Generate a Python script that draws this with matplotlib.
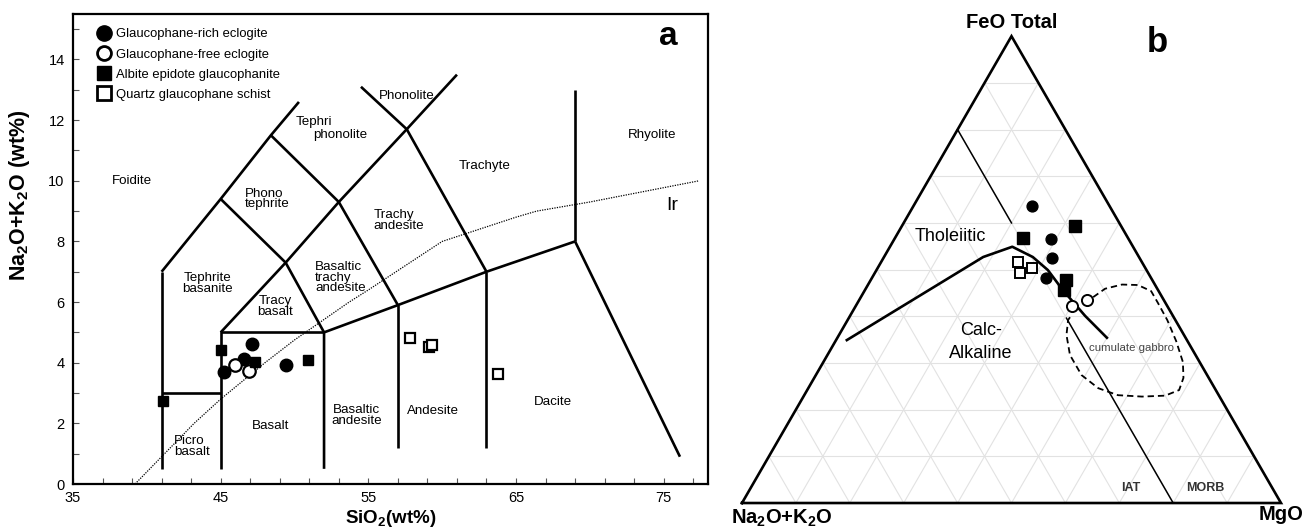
import numpy as np
import matplotlib
matplotlib.use("Agg")
import matplotlib.pyplot as plt
from matplotlib.lines import Line2D

plt.rcParams.update({
    "font.family": ["Liberation Sans", "DejaVu Sans"],
    "mathtext.fontset": "custom",
    "mathtext.rm": "Liberation Sans:bold",
    "mathtext.bf": "Liberation Sans:bold",
    "mathtext.default": "bf",
})
LABEL_FS = 9.6

# ---- TAS samples: SiO2 (wt%) / Na2O+K2O (wt%)
gl_rich_si = [45.2, 46.6, 47.1, 49.4]
gl_rich_alk = [3.70, 4.12, 4.62, 3.93]
gl_free_si = [46.0, 46.9]
gl_free_alk = [3.93, 3.72]
albite_si = [41.1, 45.0, 47.3, 50.9]
albite_alk = [2.75, 4.42, 4.02, 4.10]
qtz_si = [57.8, 59.1, 59.3, 63.8]
qtz_alk = [4.82, 4.52, 4.58, 3.63]

# TAS field boundaries (Le Bas et al. 1986)
tas_lines = [
    [(41, 0.5), (41, 7)],
    [(41, 3), (45, 3)],
    [(45, 0.5), (45, 5), (52, 5)],
    [(52, 0.5), (52, 5), (57, 5.9), (63, 7), (69, 8)],
    [(57, 1.2), (57, 5.9)],
    [(63, 1.2), (63, 7)],
    [(69, 8), (69, 13)],
    [(69, 8), (76.1, 0.9)],
    [(41, 7), (45, 9.4), (48.4, 11.5), (50.3, 12.6)],
    [(45, 9.4), (49.4, 7.3), (52, 5)],
    [(45, 5), (49.4, 7.3), (53, 9.3), (57.6, 11.7), (61, 13.5)],
    [(48.4, 11.5), (53, 9.3), (57, 5.9)],
    [(54.5, 13.1), (57.6, 11.7), (63, 7)],
]
# Irvine & Baragar (1971) alkaline / subalkaline divide
ir_si = [39.2, 40, 43.2, 45, 48, 50, 53.7, 55, 60, 65, 66.4, 70, 77.4]
ir_alk = [0, 0.4, 2, 2.8, 4, 4.75, 6, 6.4, 8, 8.8, 9, 9.3, 10]

tas_fields = [
    ("Foidite", 39.0, 10.0, "center"),
    ("Phono\ntephrite", 46.65, 9.4, "left"),
    ("Tephri", 50.05, 11.95, "left"),
    ("phonolite", 51.27, 11.52, "left"),
    ("Phonolite", 57.6, 12.8, "center"),
    ("Trachyte", 62.9, 10.5, "center"),
    ("Rhyolite", 74.2, 11.5, "center"),
    ("Trachy\nandesite", 55.35, 8.7, "left"),
    ("Tephrite\nbasanite", 44.1, 6.62, "center"),
    ("Tracy\nbasalt", 48.7, 5.85, "center"),
    ("Basaltic\ntrachy\nandesite", 51.4, 6.8, "left"),
    ("Basalt", 48.4, 1.9, "center"),
    ("Picro\nbasalt", 41.85, 1.24, "left"),
    ("Basaltic\nandesite", 54.2, 2.26, "center"),
    ("Andesite", 59.4, 2.4, "center"),
    ("Dacite", 67.5, 2.7, "center"),
]

# ---- AFM samples: FeOt, MgO, Na2O+K2O (normalised %)
afm_gl_rich = [(63.6, 22.0, 14.4), (56.6, 29.0, 14.4), (52.4, 31.3, 16.3), (48.1, 32.3, 19.6)]
afm_albite = [(56.8, 23.8, 19.4), (59.4, 32.0, 8.6), (47.8, 36.2, 16.0), (45.6, 36.9, 17.5)]
afm_qtz = [(51.7, 25.4, 22.9), (50.3, 28.6, 21.1), (49.2, 27.0, 23.8)]
afm_gl_free = [(42.2, 40.1, 17.7), (43.5, 42.2, 14.3)]

# tholeiitic / calc-alkaline divide
calc_alk = [(34.9, 2.0, 63.1), (52.7, 18.4, 28.9), (54.9, 22.7, 22.4), (52.7, 27.6, 19.7),
            (49.9, 31.8, 18.3), (45.8, 36.5, 17.7), (40.1, 43.6, 16.3), (35.4, 50.0, 14.6)]
thol_upper = [(80, 0, 20), (60, 20, 20)]
iat_morb = [(39.6, 40.4, 20), (0, 80, 20)]
cumulate = [(44.1, 43.1, 12.8), (45.9, 44.4, 9.7), (46.8, 47.1, 6.1), (46.7, 50.1, 3.2),
            (45.4, 53.2, 1.4), (42.9, 55.7, 1.4), (39.2, 59.3, 1.5), (34.7, 63.2, 2.1),
            (30.2, 66.7, 3.1), (26.8, 68.5, 4.7), (24.2, 69.0, 6.8), (23.0, 67.0, 10.0),
            (22.8, 62.8, 14.4), (23.1, 58.2, 18.7), (24.6, 53.8, 21.6), (27.4, 49.3, 23.3),
            (31.7, 45.0, 23.3), (36.0, 42.2, 21.8), (39.2, 40.9, 19.9), (40.3, 41.0, 18.7)]

H = np.sqrt(3) / 2


def tern_xy(pts):
    p = np.asarray(pts, dtype=float)
    s = p.sum(axis=1)
    f, m = p[:, 0] / s, p[:, 1] / s
    return m + f / 2, f * H


fig = plt.figure(figsize=(13.08, 5.29), dpi=100)

# ---------------- a: TAS diagram
ax = fig.add_axes([73 / 1308, 1 - 484 / 529, 635 / 1308, 470 / 529])
for seg in tas_lines:
    xs, ys = zip(*seg)
    ax.plot(xs, ys, color="black", lw=1.9, solid_capstyle="butt", zorder=2)
ax.plot(ir_si, ir_alk, color="black", lw=0.9, ls=(0, (1, 1)), zorder=2)

for txt, x, y, ha in tas_fields:
    ax.text(x, y, txt, ha=ha, va="center", fontsize=LABEL_FS,
            linespacing=0.85, zorder=3)
ax.text(75.6, 9.2, "Ir", fontsize=14, ha="center", va="center")
ax.text(75.3, 14.75, "a", fontsize=24, fontweight="bold", ha="center", va="center")

ax.plot(gl_rich_si, gl_rich_alk, "o", ms=9, color="black", zorder=5)
ax.plot(gl_free_si, gl_free_alk, "o", ms=9, mfc="white", mec="black", mew=1.6, zorder=5)
ax.plot(albite_si, albite_alk, "s", ms=7.5, color="black", zorder=5)
ax.plot(qtz_si, qtz_alk, "s", ms=7, mfc="white", mec="black", mew=1.6, zorder=5)

handles = [
    Line2D([], [], ls="none", marker="o", ms=11, color="black"),
    Line2D([], [], ls="none", marker="o", ms=10, mfc="white", mec="black", mew=2),
    Line2D([], [], ls="none", marker="s", ms=10.5, color="black"),
    Line2D([], [], ls="none", marker="s", ms=10, mfc="white", mec="black", mew=2),
]
labels = ["Glaucophane-rich eclogite", "Glaucophane-free eclogite",
          "Albite epidote glaucophanite", "Quartz glaucophane schist"]
ax.legend(handles, labels, loc="upper left", bbox_to_anchor=(0.022, 0.992),
          frameon=False, handlelength=1.0, handletextpad=0.45, labelspacing=0.62,
          borderaxespad=0.4, prop={"size": 9.4})

ax.set_xlim(35, 78)
ax.set_ylim(0, 15.5)
ax.set_xticks([35, 45, 55, 65, 75])
ax.set_xticks(np.arange(35, 78, 2), minor=True)
ax.set_yticks(np.arange(0, 15, 2))
ax.set_yticks(np.arange(0, 16, 1), minor=True)
ax.tick_params(which="both", direction="in", length=4, width=0.8, labelsize=10.5,
               color="#555555")
ax.tick_params(axis="x", pad=5)
ax.tick_params(axis="y", pad=6)
for sp in ax.spines.values():
    sp.set_linewidth(1.6)
ax.set_xlabel("SiO$_2$(wt%)", fontsize=13.5, fontweight="bold", labelpad=2)
ax.set_ylabel("Na$_2$O+K$_2$O (wt%)", fontsize=15.5, fontweight="bold")
ax.yaxis.set_label_coords(-0.064, 0.615)

# ---------------- b: AFM diagram
bx = fig.add_axes([720 / 1308, 0, 588 / 1308, 1])
bx.set_xlim(-0.0408, 1.0501)
bx.set_ylim(-0.0482, 0.9332)
bx.axis("off")

for k in np.arange(1, 10) / 10:
    for a, b in [((k, 0, 1 - k), (k, 1 - k, 0)),
                 ((0, k, 1 - k), (1 - k, k, 0)),
                 ((0, 1 - k, k), (1 - k, 0, k))]:
        gx, gy = tern_xy([a, b])
        bx.plot(gx, gy, color="#e2e2e2", lw=0.8, zorder=1)

tx, ty = tern_xy([(0, 0, 1), (0, 1, 0), (1, 0, 0), (0, 0, 1)])
bx.plot(tx, ty, color="black", lw=1.9, zorder=3, solid_joinstyle="miter")

cx, cy = tern_xy(calc_alk)
bx.plot(cx, cy, color="black", lw=1.9, zorder=3)
for seg in (thol_upper, iat_morb):
    sx, sy = tern_xy(seg)
    bx.plot(sx, sy, color="black", lw=1.1, zorder=3)
gx, gy = tern_xy(cumulate)
bx.plot(gx, gy, color="black", lw=1.3, ls=(0, (3.5, 2.2)), zorder=3)

px, py = tern_xy(afm_gl_rich)
bx.plot(px, py, "o", ms=7.8, color="black", zorder=5)
px, py = tern_xy(afm_albite)
bx.plot(px, py, "s", ms=8, color="black", zorder=5)
px, py = tern_xy(afm_qtz)
bx.plot(px, py, "s", ms=7.2, mfc="white", mec="black", mew=1.4, zorder=5)
px, py = tern_xy(afm_gl_free)
bx.plot(px, py, "o", ms=8, mfc="white", mec="black", mew=1.4, zorder=5)

bx.text(0.5, H + 0.026, "FeO Total", ha="center", va="center", fontsize=14.5,
        fontweight="bold")
bx.text(0.074, -0.028, "Na$_2$O+K$_2$O", ha="center", va="center", fontsize=14.5,
        fontweight="bold")
bx.text(1.0, -0.022, "MgO", ha="center", va="center", fontsize=14.5, fontweight="bold")
bx.text(0.770, 0.855, "b", ha="center", va="center", fontsize=25, fontweight="bold")
bx.text(0.386, 0.494, "Tholeiitic", ha="center", va="center", fontsize=13)
bx.text(0.443, 0.299, "Calc-\nAlkaline", ha="center", va="center", fontsize=13,
        linespacing=1.5)
bx.text(0.722, 0.288, "cumulate gabbro", ha="center", va="center", fontsize=8.2,
        color="#444444")
bx.text(0.722, 0.028, "IAT", ha="center", va="center", fontsize=9, fontweight="bold",
        color="#333333")
bx.text(0.859, 0.028, "MORB", ha="center", va="center", fontsize=9, fontweight="bold",
        color="#333333")

fig.savefig("out.png", dpi=100)
